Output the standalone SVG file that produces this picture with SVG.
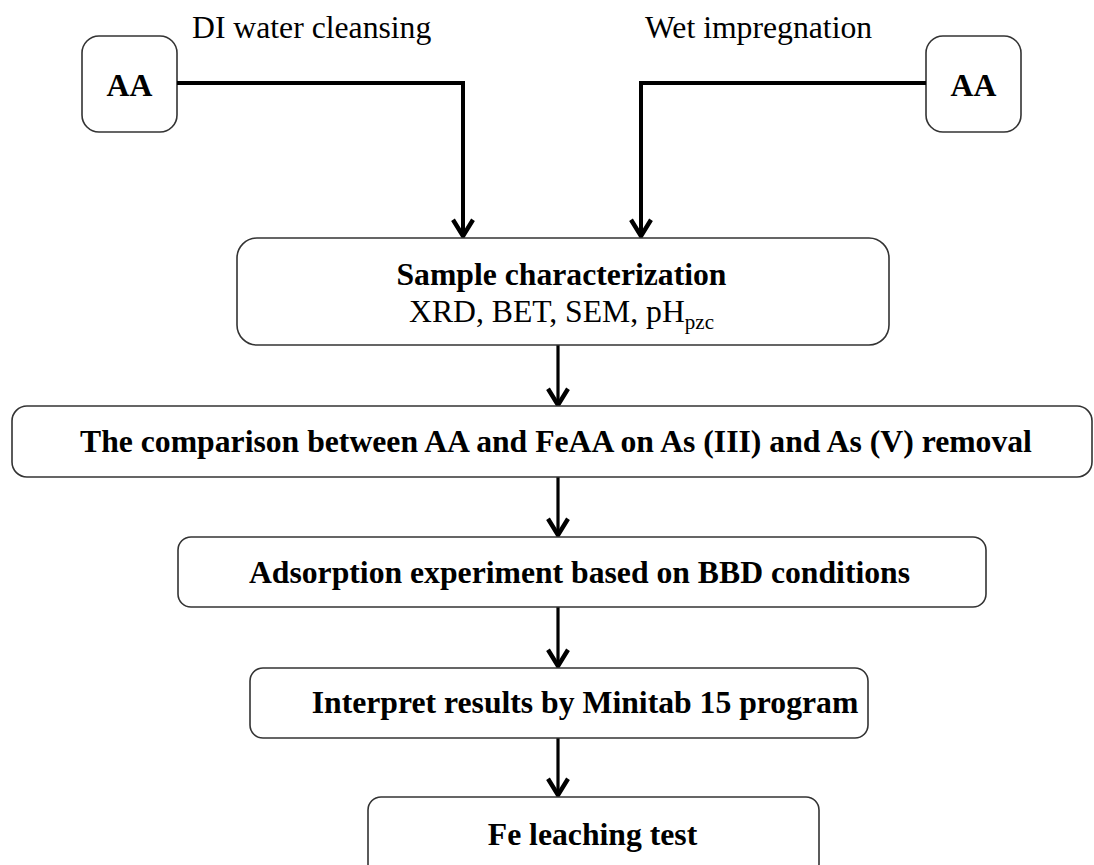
<svg xmlns="http://www.w3.org/2000/svg" width="1094" height="865" viewBox="0 0 1094 865">
<style>
.box{fill:#fff;stroke:#333;stroke-width:1.6}
.t{font-family:"Liberation Serif","Times New Roman",serif;fill:#000}
.b{font-weight:bold;font-size:31.7px}
.r{font-size:31.7px}
.c{fill:none;stroke:#000;stroke-width:4}
.v{fill:none;stroke:#000;stroke-width:3.2}
</style>
<defs>
<marker id="ah" markerUnits="userSpaceOnUse" markerWidth="30" markerHeight="30" viewBox="-16 -12 20 24" refX="0" refY="0" orient="auto" overflow="visible">
<path d="M-13,-8 L0,0 L-13,8" fill="none" stroke="#000" stroke-width="3.5"/>
</marker>
</defs>
<rect width="1094" height="865" fill="#fff"/>
<g id="labels">
<text class="t r" x="192" y="38">DI water cleansing</text>
<text class="t r" x="645" y="38">Wet impregnation</text>
</g>
<g id="aa-left">
<rect class="box" x="82" y="36" width="95" height="96" rx="17"/>
<text class="t b" x="129.5" y="96" text-anchor="middle">AA</text>
</g>
<g id="aa-right">
<rect class="box" x="926" y="36" width="95" height="96" rx="17"/>
<text class="t b" x="973.5" y="96" text-anchor="middle">AA</text>
</g>
<g id="connectors">
<path class="c" d="M177,83 H463 V236" marker-end="url(#ah)"/>
<path class="c" d="M926,83 H641 V236" marker-end="url(#ah)"/>
<path class="v" d="M558,345 V405" marker-end="url(#ah)"/>
<path class="v" d="M558,477 V535" marker-end="url(#ah)"/>
<path class="v" d="M558,607 V666" marker-end="url(#ah)"/>
<path class="v" d="M558,738 V795" marker-end="url(#ah)"/>
</g>
<g id="sample">
<rect class="box" x="237" y="238" width="652" height="107" rx="20"/>
<text class="t b" x="561.5" y="285" text-anchor="middle">Sample characterization</text>
<text class="t r" x="409" y="322">XRD, BET, SEM, pH<tspan font-size="21" dy="7">pzc</tspan></text>
</g>
<g id="comparison">
<rect class="box" x="12" y="406" width="1080" height="71" rx="15"/>
<text class="t b" x="556" y="452" text-anchor="middle">The comparison between AA and FeAA on As (III) and As (V) removal</text>
</g>
<g id="adsorption">
<rect class="box" x="178" y="537" width="808" height="70" rx="13"/>
<text class="t b" x="579.5" y="583" text-anchor="middle">Adsorption experiment based on BBD conditions</text>
</g>
<g id="interpret">
<rect class="box" x="250" y="668" width="618" height="70" rx="13"/>
<text class="t b" x="585" y="713" text-anchor="middle">Interpret results by Minitab 15 program</text>
</g>
<g id="fe">
<rect class="box" x="368" y="797" width="451" height="80" rx="13"/>
<text class="t b" x="592.5" y="845" text-anchor="middle">Fe leaching test</text>
</g>
</svg>
